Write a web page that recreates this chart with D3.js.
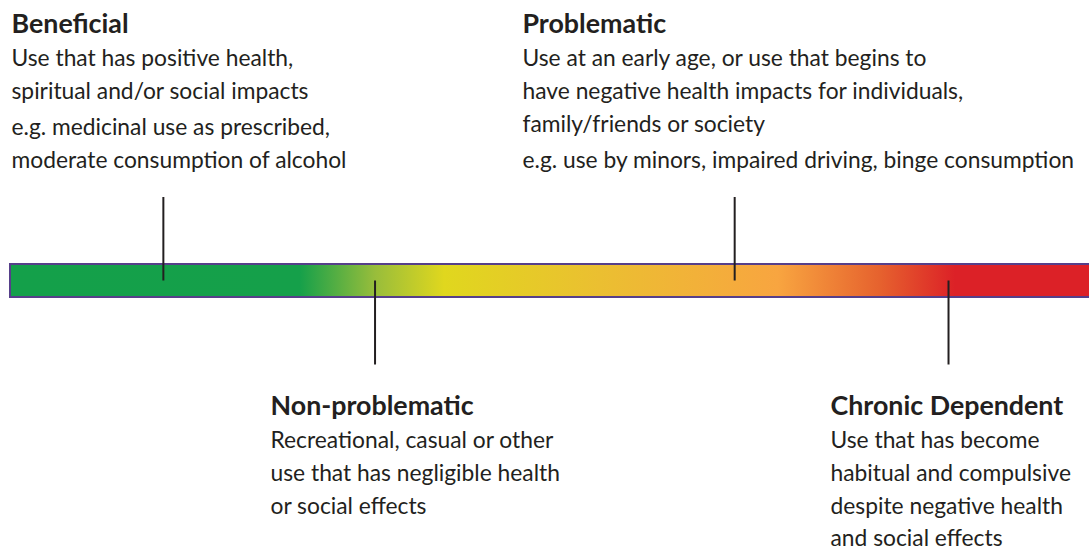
<!DOCTYPE html>
<html><head><meta charset="utf-8"><script src="https://cdn.jsdelivr.net/npm/d3@7"></script>
<style>body{margin:0;background:#fff}</style></head>
<body>
<svg id="chart" width="1089" height="548"></svg>
<script>
// ---- data ----
const categories = ["Beneficial", "Non-problematic", "Problematic", "Chronic Dependent"];
const positions = [14.2, 33.8, 67.1, 86.9];          // place on the spectrum (0–100)
const sides = ["above", "below", "above", "below"];
const descriptions = [
  ["Use that has positive health,", "spiritual and/or social impacts"],
  ["Recreational, casual or other", "use that has negligible health", "or social effects"],
  ["Use at an early age, or use that begins to", "have negative health impacts for individuals,", "family/friends or society"],
  ["Use that has become", "habitual and compulsive", "despite negative health", "and social effects"]
];
const examples = [
  ["e.g. medicinal use as prescribed,", "moderate consumption of alcohol"],
  [],
  ["e.g. use by minors, impaired driving, binge consumption"],
  []
];
const gradientOffsets = [0, 26.8, 33.8, 40.2, 54.6, 71.1, 80.5, 87.5, 100];
const gradientColors = ["#14a04a", "#15a04a", "#98bd3b", "#e0d71e", "#ebbf31", "#f8a540", "#e6622e", "#dc2127", "#dc2127"];

// ---- layout ----
const W = 1089, H = 548;
const barTop = 264, barH = 33;
const x = d3.scaleLinear().domain([0, 100]).range([10, 1090]);
const labelX = [11.5, 270.5, 522.5, 830.5];
const ink = "#231f20";
const font = "Lato, 'Open Sans', sans-serif";

const svg = d3.select("#chart");

const grad = svg.append("defs").append("linearGradient")
  .attr("id", "spectrum").attr("gradientUnits", "userSpaceOnUse")
  .attr("x1", x(0)).attr("x2", x(100)).attr("y1", 0).attr("y2", 0);
grad.selectAll("stop").data(gradientOffsets).join("stop")
  .attr("offset", d => d + "%")
  .attr("stop-color", (d, i) => gradientColors[i]);

svg.append("rect")
  .attr("x", x(0)).attr("y", barTop)
  .attr("width", x(100) - x(0) + 4).attr("height", barH)
  .attr("fill", "url(#spectrum)")
  .attr("stroke", "#563f8a").attr("stroke-width", 2);

const mid = barTop + barH / 2;
const markers = svg.append("g");
markers.selectAll("line").data(positions).join("line")
  .attr("x1", d => x(d)).attr("x2", d => x(d))
  .attr("y1", (d, i) => sides[i] === "above" ? 197 : mid)
  .attr("y2", (d, i) => sides[i] === "above" ? mid : 364.5)
  .attr("stroke", ink).attr("stroke-width", 2);

const labels = svg.append("g").attr("fill", ink).style("font-family", font);
categories.forEach((name, i) => {
  const above = sides[i] === "above";
  const titleY = above ? 32.8 : 415;
  const firstY = above ? 65.5 : 448;
  const step = above ? 33 : 32.8;
  const g = labels.append("g");
  g.append("text")
    .attr("x", labelX[i]).attr("y", titleY)
    .style("font-size", "26.8px").style("font-weight", "bold")
    .text(name);
  const lines = descriptions[i].map(t => ({t, ex: false}))
    .concat(examples[i].map(t => ({t, ex: true})));
  g.selectAll("text.line").data(lines).join("text")
    .attr("class", "line")
    .attr("x", labelX[i])
    .attr("y", (d, j) => firstY + j * step + (d.ex ? 3 : 0))
    .style("font-size", "22.8px")
    .text(d => d.t);
});
</script></body></html>
